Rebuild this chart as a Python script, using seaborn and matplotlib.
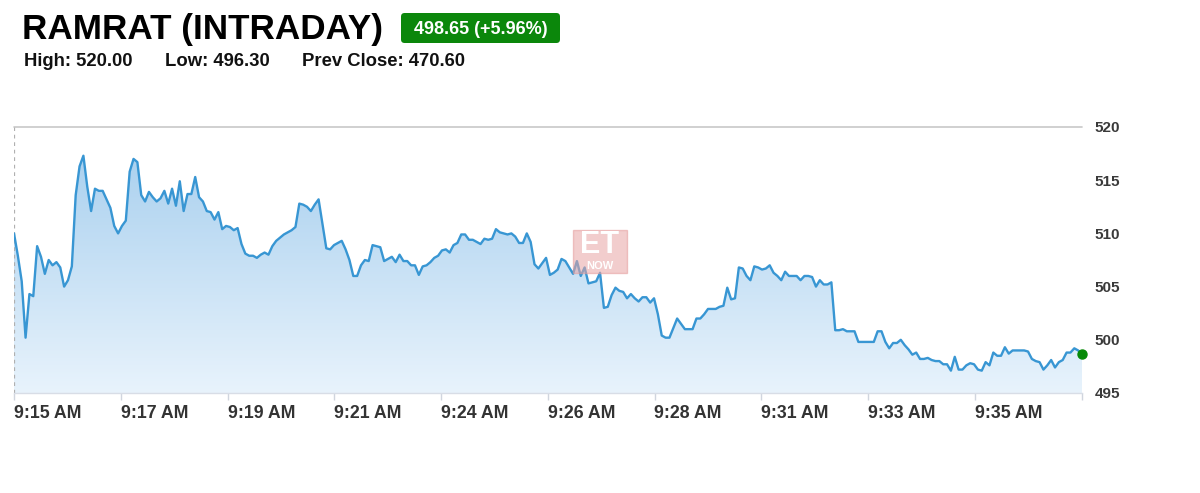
import numpy as np
import pandas as pd
import matplotlib
matplotlib.use("Agg")
import matplotlib.pyplot as plt
import seaborn as sns
from matplotlib.patches import PathPatch, FancyBboxPatch, Rectangle
from matplotlib.colors import LinearSegmentedColormap

# ---------------- data ----------------
title_text = "RAMRAT (INTRADAY)"
badge_text = "498.65 (+5.96%)"
stats_labels = ["High: 520.00", "Low: 496.30", "Prev Close: 470.60"]

prices = [
    510.0, 507.9, 505.5, 500.2, 504.3, 504.1, 508.8, 507.8, 506.2, 507.5,
    507.0, 507.3, 506.8, 505.0, 505.6, 506.9, 513.6, 516.3, 517.3, 514.4,
    512.1, 514.2, 514.0, 514.0, 513.2, 512.4, 510.7, 510.0, 510.7, 511.2,
    515.8, 517.0, 516.7, 513.6, 513.0, 513.9, 513.4, 513.0, 513.3, 514.0,
    512.8, 514.2, 512.6, 514.9, 512.1, 513.7, 513.7, 515.3, 513.4, 513.0,
    512.1, 512.0, 511.3, 512.0, 510.4, 510.7, 510.6, 510.3, 510.5, 509.0,
    508.1, 507.9, 507.9, 507.7, 508.0, 508.2, 508.0, 508.8, 509.3, 509.6,
    509.9, 510.1, 510.3, 510.6, 512.8, 512.7, 512.5, 512.1, 512.7, 513.2,
    510.9, 508.6, 508.5, 508.9, 509.1, 509.3, 508.5, 507.5, 506.0, 506.0,
    507.0, 507.5, 507.4, 508.9, 508.8, 508.7, 507.4, 507.6, 507.8, 507.3,
    508.0, 507.4, 507.4, 507.0, 507.0, 506.1, 506.9, 507.0, 507.3, 507.7,
    507.9, 508.4, 508.5, 508.2, 508.9, 509.1, 509.9, 509.9, 509.4, 509.4,
    509.2, 509.0, 509.5, 509.4, 509.5, 510.4, 510.1, 510.0, 509.9, 510.0,
    509.7, 509.1, 509.1, 510.0, 509.2, 507.1, 506.7, 507.2, 507.7, 506.1,
    506.3, 506.6, 507.6, 507.4, 506.8, 506.2, 507.4, 506.0, 506.8, 505.3,
    505.4, 505.5, 506.3, 503.0, 503.1, 504.2, 504.9, 504.6, 504.5, 503.9,
    504.3, 503.9, 503.6, 504.0, 504.0, 503.5, 503.9, 502.4, 500.4, 500.2,
    500.2, 501.1, 502.0, 501.5, 501.0, 501.0, 501.0, 502.0, 502.0, 502.4,
    502.9, 502.9, 502.9, 503.1, 503.2, 504.9, 503.8, 503.9, 506.8, 506.7,
    506.0, 505.6, 506.9, 506.8, 506.6, 506.7, 507.0, 506.3, 506.0, 505.6,
    506.4, 506.0, 506.0, 506.0, 505.6, 506.0, 506.0, 505.9, 505.0, 505.6,
    505.2, 505.2, 505.4, 500.9, 500.9, 501.0, 500.8, 500.8, 500.8, 499.8,
    499.8, 499.8, 499.8, 499.8, 500.8, 500.8, 499.8, 499.2, 499.7, 499.7,
    500.0, 499.5, 499.1, 498.6, 498.8, 498.2, 498.2, 498.3, 498.1, 498.0,
    498.0, 497.7, 497.7, 497.1, 498.4, 497.2, 497.2, 497.6, 497.8, 497.7,
    497.2, 497.1, 497.9, 497.6, 498.8, 498.5, 498.5, 499.3, 498.7, 499.0,
    499.0, 499.0, 499.0, 498.9, 498.2, 498.0, 497.9, 497.2, 497.6, 498.1,
    497.4, 497.9, 498.1, 498.8, 498.8, 499.2, 499.0, 498.65,
]
time_labels = ["9:15 AM", "9:17 AM", "9:19 AM", "9:21 AM", "9:24 AM",
               "9:26 AM", "9:28 AM", "9:31 AM", "9:33 AM", "9:35 AM"]
y_ticks = [495, 500, 505, 510, 515, 520]

# ---------------- style ----------------
sns.set_theme(style="white")
plt.rcParams["font.family"] = ["Liberation Sans", "DejaVu Sans"]

W, H = 1200, 493
fig = plt.figure(figsize=(W / 100, H / 100), dpi=100)
fig.patch.set_facecolor("white")

L, R, T, B = 14, 1082, 127, 393
ax = fig.add_axes([L / W, 1 - B / H, (R - L) / W, (B - T) / H])
ax.set_facecolor("white")

n = len(prices)
df = pd.DataFrame({"idx": np.arange(n), "price": prices})

ymin, ymax = 495, 520
ax.set_xlim(0, n - 1)
ax.set_ylim(ymin, ymax)

# gradient area fill
poly = ax.fill_between(df["idx"], df["price"], ymin, color="none", lw=0)
path = poly.get_paths()[0]
clip = PathPatch(path, transform=ax.transData, facecolor="none", edgecolor="none")
ax.add_patch(clip)
cmap = LinearSegmentedColormap.from_list("fill", ["#e8f3fc", "#abd1ef"])
grad = np.linspace(0, 1, 256).reshape(-1, 1)
img = ax.imshow(grad, extent=[0, n - 1, ymin, max(prices)], origin="lower",
                aspect="auto", cmap=cmap, zorder=1)
img.set_clip_path(clip)

sns.lineplot(data=df, x="idx", y="price", ax=ax, color="#3896d3",
             linewidth=1.7, zorder=3)
ax.plot([n - 1], [prices[-1]], "o", color="#078a07", markersize=6.5,
        zorder=5, clip_on=False)

# axes decoration
for s in ["top", "right", "left"]:
    ax.spines[s].set_visible(False)
ax.spines["bottom"].set_color("#d8dde6")
ax.spines["bottom"].set_linewidth(1)
ax.axhline(ymax, color="#c8c8c8", lw=1.2, zorder=2, clip_on=False)
ax.axvline(0, color="#b0b0b0", lw=0.9, ls=(0, (3, 3)), zorder=2)

tick_pos = [k * 106.75 / (R - L) * (n - 1) for k in range(len(time_labels))]
ax.set_xticks(tick_pos + [n - 1])
ax.set_xticklabels(time_labels + [""], fontsize=12.8, fontweight="bold",
                   color="#333333", ha="left")
ax.tick_params(axis="x", length=5, width=1, color="#d0d5de", pad=4, bottom=True)

ax.yaxis.tick_right()
ax.set_yticks(y_ticks)
ax.set_yticklabels([str(v) for v in y_ticks], fontsize=11,
                   fontweight="bold", color="#3a3a3a")
ax.tick_params(axis="y", length=0, pad=9)
ax.set_xlabel("")
ax.set_ylabel("")
ax.grid(False)

# ---------------- header ----------------
fig.text(22 / W, 1 - 30 / H, title_text, fontsize=25.3, fontweight="bold",
         color="black", va="center", ha="left")

bx0, by0, bw, bh = 401, 13, 159, 30
badge = FancyBboxPatch((bx0 / W, 1 - (by0 + bh) / H), bw / W, bh / H,
                       boxstyle="round,pad=0,rounding_size=0.003",
                       mutation_aspect=W / H, transform=fig.transFigure,
                       facecolor="#0b870b", edgecolor="none")
fig.patches.append(badge)
fig.text((bx0 + bw / 2) / W, 1 - (by0 + bh / 2 + 1) / H, badge_text,
         fontsize=13, fontweight="bold", color="white", ha="center", va="center")

stat_x = [24, 165, 302]
for sx, lab in zip(stat_x, stats_labels):
    fig.text(sx / W, 1 - 62 / H, lab, fontsize=13.3, fontweight="bold",
             color="#111111", ha="left", va="center")

# ---------------- watermark ----------------
wx0, wy0, ww, wh = 573, 230, 54, 43
fig.patches.append(Rectangle((wx0 / W, 1 - (wy0 + wh) / H), ww / W, wh / H,
                             transform=fig.transFigure, facecolor="#e9a5a5",
                             edgecolor="#e49a9a", alpha=0.55, zorder=10))
fig.text((wx0 + ww / 2) / W, 1 - (wy0 + 15) / H, "ET", fontsize=22,
         fontweight="bold", color="white", ha="center", va="center", zorder=11)
fig.text((wx0 + ww / 2) / W, 1 - (wy0 + 36) / H, "NOW", fontsize=8,
         fontweight="bold", color="white", ha="center", va="center", zorder=11)

fig.savefig("out.png", dpi=100, facecolor="white")
